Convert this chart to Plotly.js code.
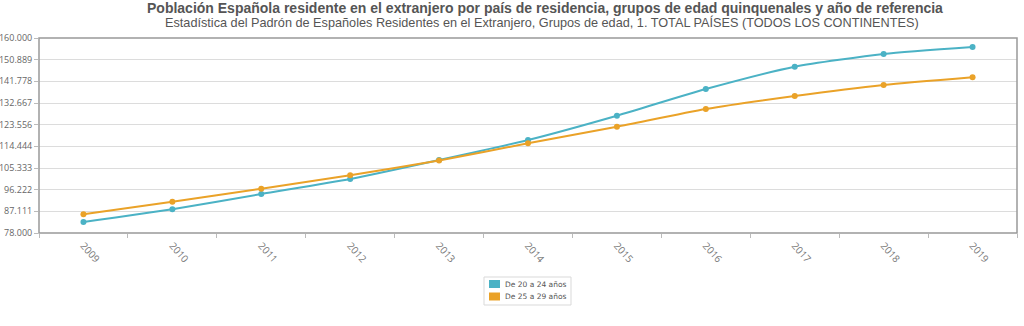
<!DOCTYPE html>
<html>
<head>
<meta charset="utf-8">
<script src="https://cdn.plot.ly/plotly-3.0.1.min.js"></script>
<style>html,body{margin:0;padding:0;background:#fff;}#chart{width:1024px;height:326px;}</style>
</head>
<body>
<div id="chart"></div>
<script>
var years = ["2009","2010","2011","2012","2013","2014","2015","2016","2017","2018","2019"];
var serie20a24 = [82630, 87970, 94400, 100710, 108700, 117110, 127330, 138550, 147930, 153270, 156220];
var serie25a29 = [85870, 91160, 96630, 102270, 108500, 115720, 122700, 130140, 135610, 140240, 143470];
var nombres = ["De 20 a 24 años", "De 25 a 29 años"];
var colores = ["#4bb2c5", "#eaa228"];
var yTickText = ["78.000","87.111","96.222","105.333","114.444","123.556","132.667","141.778","150.889","160.000"];
var yMin = 78000, yMax = 160000;
var yTickVals = yTickText.map(function(t){ return parseFloat(t.replace('.', '')) ; });

var series = [serie20a24, serie25a29];
var traces = [];
series.forEach(function(s, i){
  traces.push({
    x: years, y: s, type: 'scatter', mode: 'lines+markers', name: nombres[i],
    showlegend: false,
    line: {color: colores[i], width: 2, shape: 'spline', smoothing: 0.6},
    marker: {color: colores[i], size: 6},
    hoverinfo: 'x+y'
  });
});

// Custom compact legend (pixel layout converted to paper coords)
var plotL = 39, plotT = 38, plotW = 978, plotH = 195;
function px(x){ return (x - plotL) / plotW; }
function py(y){ return (plotT + plotH - y) / plotH; }
var shapes = [
  {type: 'rect', xref: 'paper', yref: 'paper', x0: 0, x1: 1, y0: 0, y1: 1,
   line: {color: '#999', width: 1.5}},
  {type: 'rect', xref: 'paper', yref: 'paper', x0: px(484), x1: px(571), y0: py(305), y1: py(277),
   line: {color: '#d9d9d9', width: 1}, fillcolor: 'rgba(0,0,0,0)'}
];
var annotations = [
  {text: '<b>Población Española residente en el extranjero por país de residencia, grupos de edad quinquenales y año de referencia</b>',
   xref: 'paper', yref: 'paper', x: px(545), xanchor: 'center', y: 1, yshift: 40, yanchor: 'top',
   showarrow: false, font: {family: 'Liberation Sans, Arial, sans-serif', size: 14, color: '#555'}},
  {text: 'Estadística del Padrón de Españoles Residentes en el Extranjero, Grupos de edad, 1. TOTAL PAÍSES (TODOS LOS CONTINENTES)',
   xref: 'paper', yref: 'paper', x: px(542), xanchor: 'center', y: 1, yshift: 25, yanchor: 'top',
   showarrow: false, font: {family: 'Liberation Sans, Arial, sans-serif', size: 12.7, color: '#555'}}
];
nombres.forEach(function(n, i){
  var yc = 284 + i * 12.5;
  shapes.push({type: 'rect', xref: 'paper', yref: 'paper', x0: px(489), x1: px(500), y0: py(yc + 4), y1: py(yc - 4),
    line: {width: 0}, fillcolor: colores[i]});
  annotations.push({text: n, xref: 'paper', yref: 'paper', x: px(503), xanchor: 'left', y: py(yc), yanchor: 'middle',
    showarrow: false, font: {family: 'DejaVu Sans, sans-serif', size: 7.5, color: '#555'}});
});

var layout = {
  width: 1024, height: 326,
  margin: {l: 39, r: 7, t: 38, b: 93},
  paper_bgcolor: '#fff', plot_bgcolor: '#fff',
  font: {family: 'Open Sans, DejaVu Sans, sans-serif', size: 9, color: '#666'},
  showlegend: false,
  xaxis: {
    type: 'category', range: [-0.5, 10.5], showgrid: false, zeroline: false,
    tickangle: 48, ticks: 'outside', tickson: 'boundaries', ticklen: 4, tickcolor: '#bbb',
    ticklabelstandoff: 4,
    tickfont: {size: 10, color: '#777'}, showline: false, fixedrange: true
  },
  yaxis: {
    range: [yMin, yMax], tickvals: yTickVals, ticktext: yTickText,
    showgrid: true, gridcolor: '#dcdcdc', gridwidth: 1, zeroline: false,
    ticks: 'outside', ticklen: 4, tickcolor: '#bbb', tickfont: {size: 9, color: '#666'},
    showline: false, fixedrange: true
  },
  shapes: shapes,
  annotations: annotations
};

Plotly.newPlot('chart', traces, layout, {displayModeBar: false, staticPlot: true});
</script>
</body>
</html>
